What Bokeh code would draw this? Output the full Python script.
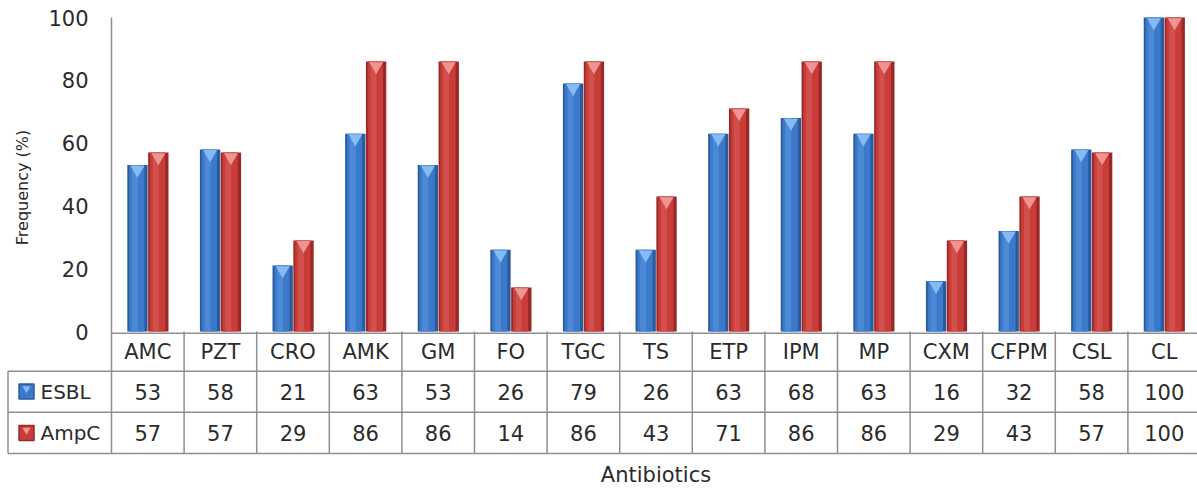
import numpy as np
from bokeh.plotting import figure
from bokeh.models import ColumnDataSource, Range1d
from bokeh.transform import dodge
from bokeh.embed import file_html
from bokeh.resources import INLINE
from bokeh.core.properties import value

# ---------------- data ----------------
antibiotics = ["AMC", "PZT", "CRO", "AMK", "GM", "FO", "TGC", "TS", "ETP",
               "IPM", "MP", "CXM", "CFPM", "CSL", "CL"]
esbl = [53, 58, 21, 63, 53, 26, 79, 26, 63, 68, 63, 16, 32, 58, 100]
ampc = [57, 57, 29, 86, 86, 14, 86, 43, 71, 86, 86, 29, 43, 57, 100]
series_names = ["ESBL", "AmpC"]
y_ticks = [0, 20, 40, 60, 80, 100]
y_label = "Frequency (%)"
x_label = "Antibiotics"

# ---------------- layout / style ----------------
FONT = "DejaVu Sans"
TXT = "#2b2b2b"
GRID = "#8f8f8f"
W, H = 1197, 488
LEFT = 111                # px where the first category column starts
n = len(antibiotics)
cw = 72.6                 # px per category column
PXU = 3.14                # px per percent
ZERO_PY = 331             # canvas row of 0 %


def py(row):
    """canvas pixel row -> percentage coordinate"""
    return (ZERO_PY - row) / PXU


def px(col):
    """canvas pixel column -> category coordinate"""
    return (col - LEFT) / cw


BLUE = dict(dark="#2b5b9c", main="#3b7acb", light="#5d98de", top="#86baf2")
RED = dict(dark="#992826", main="#c83d39", light="#d9605b", top="#f09491")

p = figure(width=W, height=H,
           x_range=Range1d(px(0), px(W)),
           y_range=Range1d(py(H), py(0)),
           output_backend="svg", toolbar_location=None,
           x_axis_location=None, y_axis_location=None,
           min_border_left=0, min_border_right=0, min_border_top=0, min_border_bottom=0,
           outline_line_color=None, background_fill_color="white",
           border_fill_color="white")
p.grid.visible = False

xs = np.arange(n) + 0.5
src = ColumnDataSource(dict(x=xs, cat=antibiotics, esbl=esbl, ampc=ampc))

# ---------------- bars ----------------
for field, off, c in (("esbl", -0.142, BLUE), ("ampc", 0.145, RED)):
    p.vbar(x=dodge("x", off), top=field, bottom=0, width=0.28,
           source=src, fill_color=c["dark"], line_color=None)
    p.vbar(x=dodge("x", off - 0.01), top=field, bottom=0, width=0.21,
           source=src, fill_color=c["main"], line_color=None)
    p.vbar(x=dodge("x", off - 0.035), top=field, bottom=0, width=0.08,
           source=src, fill_color=c["light"], fill_alpha=0.55, line_color=None)
    p.scatter(x=dodge("x", off), y=dodge(field, -1.5), source=src,
              marker="inverted_triangle", size=14, fill_color=c["top"], line_color=None)

# ---------------- y axis (drawn at x = 0) ----------------
y_head = py(332.7)
y_r1 = py(370.7)
y_r2 = py(411.8)
y_r3 = py(453)
p.segment(x0=[0], x1=[0], y0=[max(y_ticks)], y1=[y_r3], line_color=GRID, line_width=1.5)
p.text(x=[0] * len(y_ticks), y=y_ticks, text=[str(v) for v in y_ticks],
       x_offset=-23, text_align="right", text_baseline="middle",
       text_font=value(FONT), text_font_size="21px", text_color=TXT)
p.text(x=[px(22)], y=[py(187)], text=[y_label], angle=np.pi / 2,
       text_align="center", text_baseline="middle",
       text_font=value(FONT), text_font_size="16px", text_color=TXT)

# ---------------- data table ----------------
label_left = px(7.5)
p.segment(x0=[0], x1=[n], y0=[y_head], y1=[y_head], line_color=GRID, line_width=1.5)
p.segment(x0=[label_left] * 3, x1=[n] * 3, y0=[y_r1, y_r2, y_r3], y1=[y_r1, y_r2, y_r3],
          line_color=GRID, line_width=1.5)
p.segment(x0=[label_left], x1=[label_left], y0=[y_r1], y1=[y_r3],
          line_color=GRID, line_width=1.5)
p.segment(x0=list(range(1, n + 1)), x1=list(range(1, n + 1)), y0=0, y1=y_r3,
          line_color=GRID, line_width=1.5)

p.text(x="x", y=py(351), text="cat", source=src, text_align="center",
       text_baseline="middle", text_font=value(FONT), text_font_size="21px",
       text_color=TXT)

row_y = [py(391), py(432.5)]
for vals, ry in ((esbl, row_y[0]), (ampc, row_y[1])):
    p.text(x=xs, y=[ry] * n, text=[str(v) for v in vals], text_align="center",
           text_baseline="middle", text_font=value(FONT), text_font_size="21px",
           text_color=TXT)

for name, ry, c in ((series_names[0], row_y[0], BLUE), (series_names[1], row_y[1], RED)):
    p.scatter(x=[px(26)], y=[ry], marker="square", size=15,
              fill_color=c["main"], line_color=c["dark"], line_width=1.5)
    p.scatter(x=[px(26)], y=[ry + 0.9], marker="inverted_triangle", size=8,
              fill_color=c["top"], line_color=None)
    p.text(x=[px(40)], y=[ry], text=[name], text_align="left",
           text_baseline="middle", text_font=value(FONT), text_font_size="20px",
           text_color=TXT)

p.text(x=[n / 2], y=[py(474)], text=[x_label], text_align="center",
       text_baseline="middle", text_font=value(FONT), text_font_size="21px",
       text_color=TXT)

open("out.html", "w").write(file_html(p, INLINE))
